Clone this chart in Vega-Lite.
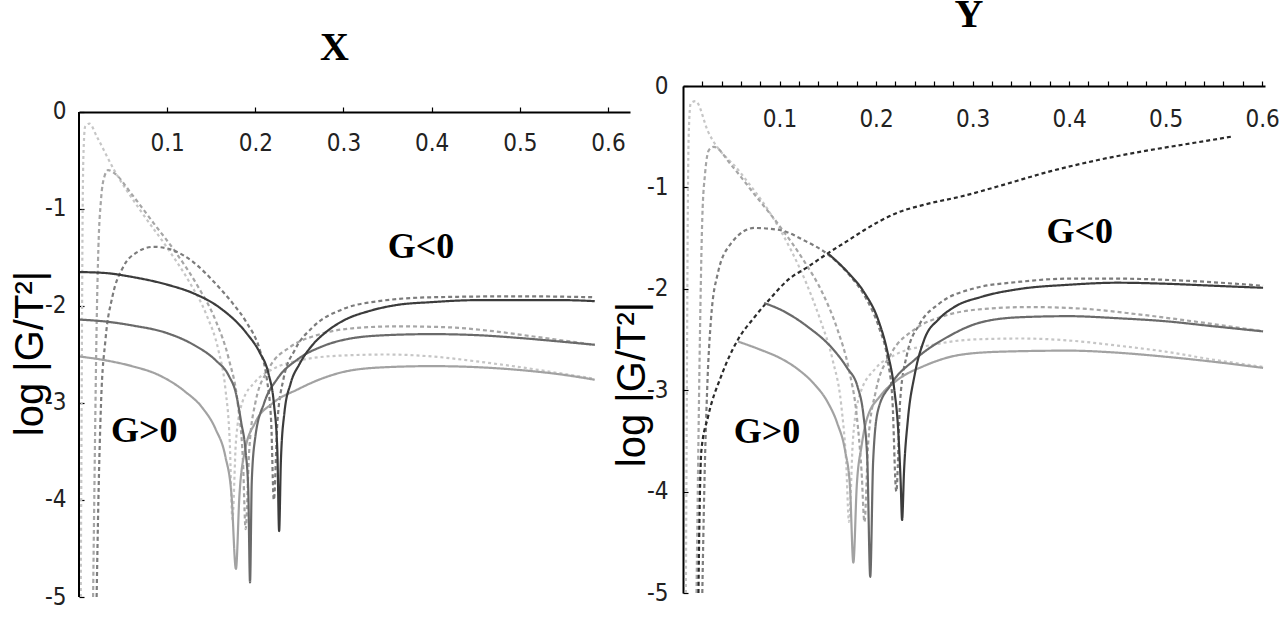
{
  "$schema": "https://vega.github.io/schema/vega-lite/v6.json",
  "padding": {"left": 10, "top": -5, "right": 0, "bottom": 0},
  "spacing": -18,
  "config": {
    "view": {"stroke": null},
    "axis": {
      "grid": false,
      "domainColor": "#000000",
      "domainWidth": 2,
      "tickColor": "#000000",
      "tickWidth": 1.2,
      "labelColor": "#222222",
      "labelFont": "Liberation Sans Narrow, DejaVu Sans Condensed, sans-serif",
      "labelFontSize": 24,
      "labelFontWeight": "normal",
      "titleFont": "Liberation Sans",
      "titleFontSize": 40,
      "titleFontWeight": "normal",
      "titleColor": "#000000"
    },
    "title": {"font": "Liberation Serif", "fontSize": 40, "fontWeight": "bold", "color": "#000000"}
  },
  "hconcat": [
    {
      "width": 551,
      "height": 511,
      "title": {"text": "X", "offset": 18, "anchor": "middle", "dx": -20},
      "layer": [
        {
          "data": {"values": [
            {"s":"d1","x":0.002,"y":-5},{"s":"d1","x":0.003,"y":-3},{"s":"d1","x":0.004,"y":-1.2},{"s":"d1","x":0.005,"y":-0.45},{"s":"d1","x":0.007,"y":-0.15},{"s":"d1","x":0.012,"y":-0.12},{"s":"d1","x":0.02,"y":-0.25},{"s":"d1","x":0.04,"y":-0.6},{"s":"d1","x":0.07,"y":-1.02},{"s":"d1","x":0.1,"y":-1.4},{"s":"d1","x":0.125,"y":-1.75},{"s":"d1","x":0.145,"y":-2.1},{"s":"d1","x":0.158,"y":-2.45},{"s":"d1","x":0.166,"y":-2.85},{"s":"d1","x":0.171,"y":-3.4},{"s":"d1","x":0.174,"y":-4.2},{"s":"d1","x":0.178,"y":-3.4},{"s":"d1","x":0.185,"y":-3.0},{"s":"d1","x":0.2,"y":-2.78},{"s":"d1","x":0.22,"y":-2.65},{"s":"d1","x":0.25,"y":-2.56},{"s":"d1","x":0.3,"y":-2.51},{"s":"d1","x":0.35,"y":-2.5},{"s":"d1","x":0.4,"y":-2.52},{"s":"d1","x":0.45,"y":-2.57},{"s":"d1","x":0.5,"y":-2.63},{"s":"d1","x":0.55,"y":-2.7},{"s":"d1","x":0.585,"y":-2.75},
            {"s":"d2","x":0.016,"y":-5},{"s":"d2","x":0.018,"y":-3.5},{"s":"d2","x":0.02,"y":-2.2},{"s":"d2","x":0.022,"y":-1.4},{"s":"d2","x":0.025,"y":-0.9},{"s":"d2","x":0.029,"y":-0.66},{"s":"d2","x":0.033,"y":-0.6},{"s":"d2","x":0.04,"y":-0.63},{"s":"d2","x":0.06,"y":-0.85},{"s":"d2","x":0.085,"y":-1.15},{"s":"d2","x":0.11,"y":-1.45},{"s":"d2","x":0.135,"y":-1.8},{"s":"d2","x":0.155,"y":-2.15},{"s":"d2","x":0.17,"y":-2.55},{"s":"d2","x":0.18,"y":-3.0},{"s":"d2","x":0.186,"y":-3.6},{"s":"d2","x":0.189,"y":-4.3},{"s":"d2","x":0.193,"y":-3.5},{"s":"d2","x":0.2,"y":-3.0},{"s":"d2","x":0.215,"y":-2.65},{"s":"d2","x":0.24,"y":-2.42},{"s":"d2","x":0.27,"y":-2.3},{"s":"d2","x":0.31,"y":-2.23},{"s":"d2","x":0.36,"y":-2.21},{"s":"d2","x":0.42,"y":-2.22},{"s":"d2","x":0.47,"y":-2.26},{"s":"d2","x":0.52,"y":-2.32},{"s":"d2","x":0.585,"y":-2.4},
            {"s":"d3","x":0.02,"y":-5},{"s":"d3","x":0.022,"y":-4},{"s":"d3","x":0.025,"y":-3.0},{"s":"d3","x":0.03,"y":-2.35},{"s":"d3","x":0.038,"y":-1.9},{"s":"d3","x":0.05,"y":-1.6},{"s":"d3","x":0.065,"y":-1.45},{"s":"d3","x":0.085,"y":-1.39},{"s":"d3","x":0.105,"y":-1.42},{"s":"d3","x":0.13,"y":-1.55},{"s":"d3","x":0.155,"y":-1.77},{"s":"d3","x":0.175,"y":-1.98},{"s":"d3","x":0.19,"y":-2.17},{"s":"d3","x":0.205,"y":-2.45},{"s":"d3","x":0.213,"y":-2.75},{"s":"d3","x":0.218,"y":-3.2},{"s":"d3","x":0.221,"y":-4.0},{"s":"d3","x":0.225,"y":-3.2},{"s":"d3","x":0.232,"y":-2.75},{"s":"d3","x":0.245,"y":-2.45},{"s":"d3","x":0.265,"y":-2.22},{"s":"d3","x":0.3,"y":-2.03},{"s":"d3","x":0.34,"y":-1.95},{"s":"d3","x":0.4,"y":-1.91},{"s":"d3","x":0.5,"y":-1.9},{"s":"d3","x":0.585,"y":-1.91},
            {"s":"sl","x":0,"y":-2.52},{"s":"sl","x":0.03,"y":-2.56},{"s":"sl","x":0.06,"y":-2.62},{"s":"sl","x":0.09,"y":-2.71},{"s":"sl","x":0.12,"y":-2.88},{"s":"sl","x":0.14,"y":-3.05},{"s":"sl","x":0.155,"y":-3.27},{"s":"sl","x":0.166,"y":-3.55},{"s":"sl","x":0.173,"y":-3.95},{"s":"sl","x":0.178,"y":-4.71},{"s":"sl","x":0.182,"y":-3.95},{"s":"sl","x":0.188,"y":-3.5},{"s":"sl","x":0.2,"y":-3.2},{"s":"sl","x":0.22,"y":-3.0},{"s":"sl","x":0.248,"y":-2.86},{"s":"sl","x":0.275,"y":-2.75},{"s":"sl","x":0.305,"y":-2.67},{"s":"sl","x":0.35,"y":-2.63},{"s":"sl","x":0.4,"y":-2.62},{"s":"sl","x":0.45,"y":-2.63},{"s":"sl","x":0.5,"y":-2.66},{"s":"sl","x":0.55,"y":-2.71},{"s":"sl","x":0.585,"y":-2.76},
            {"s":"sm","x":0,"y":-2.14},{"s":"sm","x":0.03,"y":-2.16},{"s":"sm","x":0.06,"y":-2.2},{"s":"sm","x":0.1,"y":-2.28},{"s":"sm","x":0.13,"y":-2.4},{"s":"sm","x":0.155,"y":-2.56},{"s":"sm","x":0.17,"y":-2.72},{"s":"sm","x":0.178,"y":-2.9},{"s":"sm","x":0.184,"y":-3.2},{"s":"sm","x":0.189,"y":-3.5},{"s":"sm","x":0.192,"y":-3.9},{"s":"sm","x":0.194,"y":-4.85},{"s":"sm","x":0.196,"y":-3.8},{"s":"sm","x":0.2,"y":-3.35},{"s":"sm","x":0.21,"y":-3.0},{"s":"sm","x":0.225,"y":-2.75},{"s":"sm","x":0.248,"y":-2.55},{"s":"sm","x":0.275,"y":-2.42},{"s":"sm","x":0.305,"y":-2.34},{"s":"sm","x":0.35,"y":-2.3},{"s":"sm","x":0.4,"y":-2.29},{"s":"sm","x":0.45,"y":-2.3},{"s":"sm","x":0.5,"y":-2.33},{"s":"sm","x":0.55,"y":-2.37},{"s":"sm","x":0.585,"y":-2.4},
            {"s":"sd","x":0,"y":-1.65},{"s":"sd","x":0.03,"y":-1.66},{"s":"sd","x":0.06,"y":-1.7},{"s":"sd","x":0.1,"y":-1.78},{"s":"sd","x":0.13,"y":-1.87},{"s":"sd","x":0.16,"y":-2.02},{"s":"sd","x":0.19,"y":-2.28},{"s":"sd","x":0.205,"y":-2.48},{"s":"sd","x":0.215,"y":-2.7},{"s":"sd","x":0.221,"y":-3.0},{"s":"sd","x":0.225,"y":-3.5},{"s":"sd","x":0.227,"y":-4.32},{"s":"sd","x":0.229,"y":-3.6},{"s":"sd","x":0.233,"y":-3.1},{"s":"sd","x":0.24,"y":-2.8},{"s":"sd","x":0.25,"y":-2.6},{"s":"sd","x":0.265,"y":-2.4},{"s":"sd","x":0.28,"y":-2.27},{"s":"sd","x":0.3,"y":-2.15},{"s":"sd","x":0.33,"y":-2.05},{"s":"sd","x":0.36,"y":-1.99},{"s":"sd","x":0.4,"y":-1.96},{"s":"sd","x":0.45,"y":-1.94},{"s":"sd","x":0.5,"y":-1.94},{"s":"sd","x":0.55,"y":-1.94},{"s":"sd","x":0.585,"y":-1.95}
          ]},
          "mark": {"type": "line", "interpolate": "monotone"},
          "encoding": {
            "x": {"field": "x", "type": "quantitative", "scale": {"domain": [0, 0.625], "nice": false, "zero": false},
              "axis": {"orient": "top", "offset": -26, "title": null, "tickSize": 5, "values": [0.1,0.2,0.3,0.4,0.5,0.6], "format": ".1f", "labelPadding": -48, "labelFlush": false, "labelOverlap": false}},
            "y": {"field": "y", "type": "quantitative", "scale": {"domain": [-5, 0.268], "nice": false, "zero": false},
              "axis": {"orient": "left", "domain": false, "title": "log |G/T²|", "titleY": 267, "values": [-5,-4,-3,-2,-1,0], "labelExpr": "'' + datum.value", "tickSize": -5, "labelPadding": 18, "titlePadding": -6}},
            "color": {"field": "s", "type": "nominal", "legend": null, "scale": {"domain": ["sd","sm","sl","d1","d2","d3","d4"], "range": ["#3c3c3c","#6a6a6a","#a2a2a2","#c6c6c6","#a6a6a6","#7c7c7c","#2a2a2a"]}},
            "strokeDash": {"field": "s", "type": "nominal", "legend": null, "scale": {"domain": ["sd","sm","sl","d1","d2","d3","d4"], "range": [[1,0],[1,0],[1,0],[3,3],[4,3],[4,3],[4,3]]}},
            "size": {"field": "s", "type": "nominal", "legend": null, "scale": {"domain": ["sd","sm","sl","d1","d2","d3","d4"], "range": [2.2,2.2,2.2,1.6,1.6,1.6,2]}}
          }
        },
        {
          "data": {"values": [{}]},
          "mark": {"type": "rule", "color": "#000000", "strokeWidth": 2},
          "encoding": {
            "x": {"datum": 0, "type": "quantitative"},
            "y": {"datum": 0, "type": "quantitative"},
            "y2": {"datum": -5}
          }
        },
        {
          "data": {"values": [{"t": "G<0", "x": 0.388, "y": -1.39}, {"t": "G>0", "x": 0.074, "y": -3.29}]},
          "mark": {"type": "text", "font": "Liberation Serif", "fontWeight": "bold", "fontSize": 36, "color": "#000000", "baseline": "middle", "align": "center"},
          "encoding": {
            "x": {"field": "x", "type": "quantitative"},
            "y": {"field": "y", "type": "quantitative"},
            "text": {"field": "t", "type": "nominal"}
          }
        }
      ]
    },
    {
      "width": 582,
      "height": 507,
      "title": {"text": "Y", "offset": 39, "anchor": "middle", "dx": -5},
      "resolve": {"axis": {"x": "independent"}},
      "layer": [
        {
          "data": {"values": [
            {"s":"d1","x":0.003,"y":-5},{"s":"d1","x":0.004,"y":-3},{"s":"d1","x":0.005,"y":-1.2},{"s":"d1","x":0.006,"y":-0.45},{"s":"d1","x":0.008,"y":-0.17},{"s":"d1","x":0.013,"y":-0.15},{"s":"d1","x":0.026,"y":-0.45},{"s":"d1","x":0.06,"y":-0.86},{"s":"d1","x":0.09,"y":-1.25},{"s":"d1","x":0.112,"y":-1.62},{"s":"d1","x":0.128,"y":-1.95},{"s":"d1","x":0.142,"y":-2.3},{"s":"d1","x":0.155,"y":-2.7},{"s":"d1","x":0.164,"y":-3.15},{"s":"d1","x":0.169,"y":-3.7},{"s":"d1","x":0.172,"y":-4.3},{"s":"d1","x":0.176,"y":-3.5},{"s":"d1","x":0.183,"y":-3.05},{"s":"d1","x":0.2,"y":-2.78},{"s":"d1","x":0.22,"y":-2.65},{"s":"d1","x":0.26,"y":-2.55},{"s":"d1","x":0.3,"y":-2.5},{"s":"d1","x":0.35,"y":-2.49},{"s":"d1","x":0.4,"y":-2.51},{"s":"d1","x":0.45,"y":-2.56},{"s":"d1","x":0.5,"y":-2.62},{"s":"d1","x":0.55,"y":-2.7},{"s":"d1","x":0.601,"y":-2.77},
            {"s":"d2","x":0.014,"y":-5},{"s":"d2","x":0.016,"y":-3.5},{"s":"d2","x":0.018,"y":-2.2},{"s":"d2","x":0.02,"y":-1.3},{"s":"d2","x":0.023,"y":-0.85},{"s":"d2","x":0.027,"y":-0.63},{"s":"d2","x":0.032,"y":-0.6},{"s":"d2","x":0.05,"y":-0.78},{"s":"d2","x":0.075,"y":-1.08},{"s":"d2","x":0.1,"y":-1.38},{"s":"d2","x":0.125,"y":-1.72},{"s":"d2","x":0.145,"y":-2.05},{"s":"d2","x":0.16,"y":-2.4},{"s":"d2","x":0.172,"y":-2.8},{"s":"d2","x":0.18,"y":-3.25},{"s":"d2","x":0.185,"y":-3.8},{"s":"d2","x":0.188,"y":-4.3},{"s":"d2","x":0.192,"y":-3.5},{"s":"d2","x":0.2,"y":-3.0},{"s":"d2","x":0.215,"y":-2.65},{"s":"d2","x":0.24,"y":-2.4},{"s":"d2","x":0.27,"y":-2.27},{"s":"d2","x":0.31,"y":-2.2},{"s":"d2","x":0.36,"y":-2.18},{"s":"d2","x":0.42,"y":-2.2},{"s":"d2","x":0.47,"y":-2.25},{"s":"d2","x":0.52,"y":-2.31},{"s":"d2","x":0.601,"y":-2.42},
            {"s":"d3","x":0.02,"y":-5},{"s":"d3","x":0.022,"y":-4},{"s":"d3","x":0.025,"y":-3.0},{"s":"d3","x":0.029,"y":-2.3},{"s":"d3","x":0.036,"y":-1.85},{"s":"d3","x":0.05,"y":-1.55},{"s":"d3","x":0.074,"y":-1.4},{"s":"d3","x":0.1,"y":-1.42},{"s":"d3","x":0.125,"y":-1.52},{"s":"d3","x":0.15,"y":-1.66},{"s":"d3","x":0.172,"y":-1.86},{"s":"d3","x":0.19,"y":-2.1},{"s":"d3","x":0.203,"y":-2.38},{"s":"d3","x":0.212,"y":-2.7},{"s":"d3","x":0.217,"y":-3.1},{"s":"d3","x":0.221,"y":-4.0},{"s":"d3","x":0.225,"y":-3.1},{"s":"d3","x":0.232,"y":-2.65},{"s":"d3","x":0.245,"y":-2.35},{"s":"d3","x":0.265,"y":-2.15},{"s":"d3","x":0.3,"y":-2.0},{"s":"d3","x":0.35,"y":-1.93},{"s":"d3","x":0.4,"y":-1.9},{"s":"d3","x":0.45,"y":-1.9},{"s":"d3","x":0.52,"y":-1.92},{"s":"d3","x":0.601,"y":-1.97},
            {"s":"d4","x":0.016,"y":-5},{"s":"d4","x":0.017,"y":-4.3},{"s":"d4","x":0.019,"y":-3.6},{"s":"d4","x":0.026,"y":-3.26},{"s":"d4","x":0.04,"y":-2.85},{"s":"d4","x":0.057,"y":-2.5},{"s":"d4","x":0.074,"y":-2.28},{"s":"d4","x":0.09,"y":-2.1},{"s":"d4","x":0.109,"y":-1.91},{"s":"d4","x":0.13,"y":-1.78},{"s":"d4","x":0.15,"y":-1.65},{"s":"d4","x":0.17,"y":-1.53},{"s":"d4","x":0.188,"y":-1.42},{"s":"d4","x":0.222,"y":-1.25},{"s":"d4","x":0.25,"y":-1.17},{"s":"d4","x":0.288,"y":-1.09},{"s":"d4","x":0.33,"y":-0.98},{"s":"d4","x":0.381,"y":-0.84},{"s":"d4","x":0.43,"y":-0.73},{"s":"d4","x":0.485,"y":-0.63},{"s":"d4","x":0.53,"y":-0.56},{"s":"d4","x":0.568,"y":-0.5},
            {"s":"sl","x":0.057,"y":-2.52},{"s":"sl","x":0.08,"y":-2.6},{"s":"sl","x":0.102,"y":-2.69},{"s":"sl","x":0.12,"y":-2.8},{"s":"sl","x":0.136,"y":-2.94},{"s":"sl","x":0.15,"y":-3.12},{"s":"sl","x":0.16,"y":-3.33},{"s":"sl","x":0.168,"y":-3.6},{"s":"sl","x":0.173,"y":-3.95},{"s":"sl","x":0.1765,"y":-4.7},{"s":"sl","x":0.18,"y":-3.95},{"s":"sl","x":0.185,"y":-3.55},{"s":"sl","x":0.19,"y":-3.3},{"s":"sl","x":0.205,"y":-3.05},{"s":"sl","x":0.222,"y":-2.9},{"s":"sl","x":0.25,"y":-2.76},{"s":"sl","x":0.288,"y":-2.65},{"s":"sl","x":0.33,"y":-2.62},{"s":"sl","x":0.4,"y":-2.61},{"s":"sl","x":0.45,"y":-2.63},{"s":"sl","x":0.5,"y":-2.67},{"s":"sl","x":0.55,"y":-2.72},{"s":"sl","x":0.601,"y":-2.78},
            {"s":"sm","x":0.084,"y":-2.14},{"s":"sm","x":0.102,"y":-2.21},{"s":"sm","x":0.13,"y":-2.38},{"s":"sm","x":0.153,"y":-2.57},{"s":"sm","x":0.17,"y":-2.78},{"s":"sm","x":0.181,"y":-2.97},{"s":"sm","x":0.187,"y":-3.25},{"s":"sm","x":0.191,"y":-3.7},{"s":"sm","x":0.194,"y":-4.84},{"s":"sm","x":0.197,"y":-3.7},{"s":"sm","x":0.202,"y":-3.2},{"s":"sm","x":0.215,"y":-2.95},{"s":"sm","x":0.24,"y":-2.7},{"s":"sm","x":0.275,"y":-2.47},{"s":"sm","x":0.309,"y":-2.33},{"s":"sm","x":0.35,"y":-2.28},{"s":"sm","x":0.4,"y":-2.27},{"s":"sm","x":0.45,"y":-2.29},{"s":"sm","x":0.5,"y":-2.32},{"s":"sm","x":0.55,"y":-2.37},{"s":"sm","x":0.601,"y":-2.42},
            {"s":"sd","x":0.15,"y":-1.65},{"s":"sd","x":0.17,"y":-1.83},{"s":"sd","x":0.188,"y":-2.04},{"s":"sd","x":0.202,"y":-2.3},{"s":"sd","x":0.212,"y":-2.63},{"s":"sd","x":0.219,"y":-3.0},{"s":"sd","x":0.223,"y":-3.4},{"s":"sd","x":0.2255,"y":-3.9},{"s":"sd","x":0.227,"y":-4.28},{"s":"sd","x":0.229,"y":-3.8},{"s":"sd","x":0.233,"y":-3.29},{"s":"sd","x":0.24,"y":-2.85},{"s":"sd","x":0.25,"y":-2.5},{"s":"sd","x":0.265,"y":-2.3},{"s":"sd","x":0.281,"y":-2.18},{"s":"sd","x":0.309,"y":-2.08},{"s":"sd","x":0.35,"y":-2.0},{"s":"sd","x":0.4,"y":-1.96},{"s":"sd","x":0.45,"y":-1.94},{"s":"sd","x":0.5,"y":-1.95},{"s":"sd","x":0.55,"y":-1.97},{"s":"sd","x":0.601,"y":-1.99}
          ]},
          "mark": {"type": "line", "interpolate": "monotone"},
          "encoding": {
            "x": {"field": "x", "type": "quantitative", "scale": {"domain": [0, 0.603], "nice": false, "zero": false},
              "axis": {"orient": "top", "title": null, "labels": false, "tickSize": 5, "values": [0.02,0.04,0.06,0.08,0.1,0.12,0.14,0.16,0.18,0.2,0.22,0.24,0.26,0.28,0.3,0.32,0.34,0.36,0.38,0.4,0.42,0.44,0.46,0.48,0.5,0.52,0.54,0.56,0.58,0.6]}},
            "y": {"field": "y", "type": "quantitative", "scale": {"domain": [-5, 0], "nice": false, "zero": false},
              "axis": {"orient": "left", "title": "log |G/T²|", "titleY": 298, "values": [-5,-4,-3,-2,-1,0], "labelExpr": "'' + datum.value", "tickSize": -5, "labelPadding": 20, "titlePadding": -6}},
            "color": {"field": "s", "type": "nominal", "legend": null, "scale": {"domain": ["sd","sm","sl","d1","d2","d3","d4"], "range": ["#3c3c3c","#6a6a6a","#a2a2a2","#c6c6c6","#a6a6a6","#7c7c7c","#2a2a2a"]}},
            "strokeDash": {"field": "s", "type": "nominal", "legend": null, "scale": {"domain": ["sd","sm","sl","d1","d2","d3","d4"], "range": [[1,0],[1,0],[1,0],[3,3],[4,3],[4,3],[4,3]]}},
            "size": {"field": "s", "type": "nominal", "legend": null, "scale": {"domain": ["sd","sm","sl","d1","d2","d3","d4"], "range": [2.2,2.2,2.2,1.6,1.6,1.6,2]}}
          }
        },
        {
          "data": {"values": [{"t": "G<0", "x": 0.411, "y": -1.44}, {"t": "G>0", "x": 0.087, "y": -3.41}]},
          "mark": {"type": "text", "font": "Liberation Serif", "fontWeight": "bold", "fontSize": 36, "color": "#000000", "baseline": "middle", "align": "center"},
          "encoding": {
            "x": {"field": "x", "type": "quantitative",
              "axis": {"orient": "top", "title": null, "domain": false, "ticks": false, "values": [0.1,0.2,0.3,0.4,0.5,0.6], "format": ".1f", "labelPadding": -45, "labelFlush": false, "labelOverlap": false}},
            "y": {"field": "y", "type": "quantitative"},
            "text": {"field": "t", "type": "nominal"}
          }
        }
      ]
    }
  ]
}
